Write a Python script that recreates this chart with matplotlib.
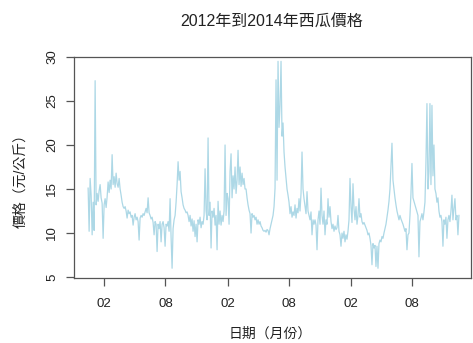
import matplotlib
matplotlib.use("Agg")
import matplotlib.pyplot as plt
import matplotlib.dates as mdates
import pandas as pd
import numpy as np

plt.rcParams['font.family'] = ['Liberation Sans', 'Noto Sans CJK TC', 'DejaVu Sans']

title = "2012年到2014年西瓜價格"
xlabel = "日期（月份）"
ylabel = "價格（元/公斤）"

start_date = "2011-12-16"
end_date = "2014-12-18"

prices = [
    15.1, 10.2, 16.2, 14.3, 9.8, 13.5, 10.3, 27.3, 13.2, 14.5,
    13.6, 14.8, 15.5, 14.0, 13.4, 9.4, 13.2, 13.9, 12.9, 14.1,
    15.8, 14.6, 16.0, 15.0, 18.9, 15.5, 16.4, 15.2, 16.8, 15.6,
    15.2, 16.2, 15.0, 14.3, 13.5, 13.0, 12.8, 13.0, 12.5, 11.7,
    12.6, 12.2, 12.4, 11.8, 12.0, 10.9, 11.8, 12.2, 11.5, 11.8,
    11.3, 9.2, 11.7, 12.0, 11.8, 12.2, 12.0, 12.4, 12.8, 12.3,
    14.0, 12.3, 12.0, 11.6, 11.8, 11.2, 9.8, 11.3, 11.0, 7.9,
    11.0, 10.5, 11.3, 9.0, 11.0, 11.3, 10.6, 8.5, 11.0, 10.8,
    11.3, 10.2, 13.9, 9.5, 6.0, 10.5, 11.5, 12.0, 13.5, 15.5,
    18.1, 16.0, 17.0, 14.7, 14.0, 13.2, 12.8, 12.6, 12.3, 12.4,
    12.0, 11.3, 12.0, 10.8, 11.6, 10.2, 11.4, 9.6, 11.0, 9.0,
    11.5, 11.0, 11.8, 10.6, 11.3, 11.0, 12.0, 17.3, 12.5, 11.5,
    20.8, 12.0, 13.5, 8.3, 12.5, 11.8, 12.8, 10.9, 12.0, 8.1,
    13.6, 11.0, 12.5, 10.9, 12.0, 11.3, 12.5, 20.0, 12.0, 14.5,
    13.9, 11.0, 17.0, 19.0, 14.0, 16.5, 15.0, 17.5, 14.5, 16.0,
    19.4, 15.5, 17.5, 15.3, 16.8, 15.5, 16.2, 15.0, 15.0, 14.0,
    13.2, 12.6, 12.2, 10.0, 12.2, 11.8, 12.0, 11.5, 11.8, 11.0,
    11.5, 11.0, 11.3, 10.8, 10.6, 10.3, 10.2, 10.3, 10.1, 10.4,
    10.3, 9.8, 10.5, 11.0, 11.5, 12.0, 13.0, 15.1, 27.4, 16.0,
    29.5, 22.0, 24.5, 29.5, 21.0, 22.5, 19.2, 17.5, 16.2, 15.0,
    14.3, 13.5, 12.2, 13.0, 11.8, 12.4, 12.0, 13.2, 11.7, 12.8,
    12.3, 13.9, 12.5, 14.5, 19.2, 15.0, 13.9, 13.0, 12.2, 14.7,
    12.5, 12.0, 11.5, 12.4, 9.8, 11.5, 11.0, 11.5, 10.9, 8.1,
    11.5, 12.5, 11.0, 15.1, 12.0, 11.0, 12.5, 9.8, 11.5, 11.0,
    13.9, 11.8, 13.0, 11.3, 10.5, 11.0, 10.2, 10.8, 10.4, 10.6,
    12.0, 10.2, 9.8, 8.5, 10.0, 9.4, 10.2, 9.0, 9.8, 9.3,
    10.2, 11.5, 16.2, 13.0, 11.2, 15.6, 12.8, 11.5, 13.0, 11.0,
    12.0, 13.9, 11.8, 12.2, 11.3, 11.0, 11.2, 10.9, 10.6, 10.3,
    9.8, 10.0, 9.4, 8.6, 6.4, 8.8, 8.3, 8.6, 6.2, 8.5,
    6.0, 8.8, 9.2, 9.0, 9.6, 9.4, 10.0, 10.5, 11.0, 11.8,
    12.6, 13.6, 15.0, 17.5, 20.2, 16.0, 15.0, 14.0, 13.2, 12.5,
    12.0, 11.5, 12.0, 11.6, 11.3, 11.0, 10.6, 10.2, 10.5, 8.1,
    9.8, 10.0, 12.0, 14.5, 17.9, 14.0, 13.6, 13.2, 12.8, 12.4,
    12.0, 7.3, 11.3, 11.7, 12.2, 11.5, 12.4, 13.5, 18.1, 24.7,
    15.0, 17.0, 24.7, 15.5, 24.5, 16.5, 20.0, 15.0, 14.5, 13.5,
    14.0, 12.5, 11.8, 12.0, 11.3, 8.5, 11.5, 11.0, 11.8, 9.4,
    11.5, 12.0, 11.3, 12.5, 14.3, 11.5, 12.8, 13.9, 11.5, 12.0,
    9.8, 12.0,
]

tick_dates = ["2012-02-01", "2012-08-01", "2013-02-01", "2013-08-01", "2014-02-01", "2014-08-01"]
tick_labels = ["02", "08", "02", "08", "02", "08"]
y_ticks = [5, 10, 15, 20, 25, 30]

dates = pd.date_range(start_date, end_date, periods=len(prices))

W, H = 473, 343
fig = plt.figure(figsize=(W / 100, H / 100), dpi=100)
ax_left, ax_right, ax_top, ax_bottom = 74, 471, 56.5, 277.5
ax = fig.add_axes([ax_left / W, 1 - ax_bottom / H, (ax_right - ax_left) / W, (ax_bottom - ax_top) / H])

ax.plot(dates, prices, color="#add8e6", lw=0.9)

t0 = mdates.date2num(pd.Timestamp("2012-02-01"))
t1 = mdates.date2num(pd.Timestamp("2014-08-01"))
ppd = (412 - 104) / (t1 - t0)
ax.set_xlim(t0 - (104 - ax_left) / ppd, t0 + (ax_right - 104) / ppd)
ax.set_ylim(4.95, 30.05)

ax.set_xticks([mdates.date2num(pd.Timestamp(d)) for d in tick_dates])
ax.set_xticklabels(tick_labels)
ax.set_yticks(y_ticks)
ax.set_yticklabels([str(v) for v in y_ticks])

for s in ax.spines.values():
    s.set_color("#555555")
    s.set_linewidth(0.9)
ax.tick_params(axis="both", colors="#555555", labelcolor="#222222", length=6, width=0.9, labelsize=9.5)
ax.tick_params(axis="x", pad=8.5)
ax.tick_params(axis="y", pad=7.5)
for lab in ax.get_yticklabels():
    lab.set_rotation(90)
    lab.set_rotation_mode("anchor")
    lab.set_ha("center")
    lab.set_va("baseline")

fig.text(272 / W, 1 - 22 / H, title, ha="center", va="center", fontsize=11.5, color="#222222")
fig.text(270 / W, 1 - 334 / H, xlabel, ha="center", va="center", fontsize=10, color="#222222")
fig.text(20 / W, 1 - 177 / H, ylabel, ha="center", va="center", rotation=90, fontsize=10, color="#222222")

fig.savefig("out.png", dpi=100)
